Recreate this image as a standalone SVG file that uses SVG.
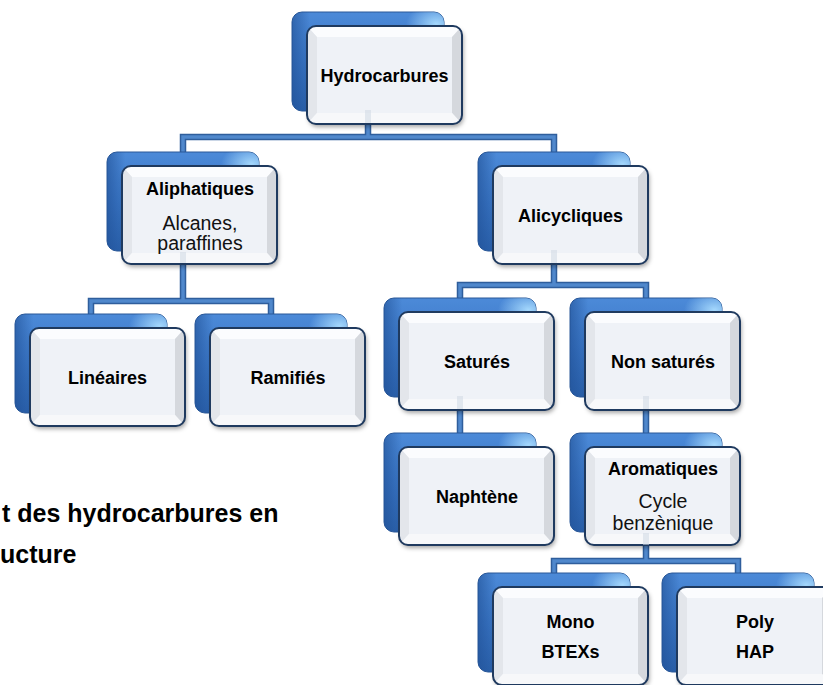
<svg xmlns="http://www.w3.org/2000/svg" xmlns:xlink="http://www.w3.org/1999/xlink" width="823" height="685" viewBox="0 0 823 685">
<style>
  .lbl{font-family:"Liberation Sans",Arial,sans-serif;font-weight:bold;font-size:18px;fill:#000;text-anchor:middle}
  .sub{font-family:"Liberation Sans",Arial,sans-serif;font-size:19.5px;fill:#111;text-anchor:middle}
  .cap{font-family:"Liberation Sans",Arial,sans-serif;font-weight:bold;font-size:25px;fill:#000}
  .c-out{fill:none;stroke:#2f5e9c;stroke-width:6.5}
  .c-in{fill:none;stroke:#5088cc;stroke-width:3.5}
  .band{fill:#cfd8e4;opacity:0.55}
</style>
<defs>
  <linearGradient id="gBack" x1="0" y1="0" x2="0" y2="1">
    <stop offset="0" stop-color="#4c8ad8"/>
    <stop offset="0.5" stop-color="#3a76c6"/>
    <stop offset="1" stop-color="#2b62ad"/>
  </linearGradient>
  <linearGradient id="gBackL" x1="0" y1="0" x2="1" y2="0">
    <stop offset="0" stop-color="#1f4f94" stop-opacity="0.6"/>
    <stop offset="0.12" stop-color="#1f4f94" stop-opacity="0"/>
  </linearGradient>
  <radialGradient id="gGlow" cx="0.95" cy="0.12" r="0.2">
    <stop offset="0" stop-color="#a9dcff" stop-opacity="0.95"/>
    <stop offset="1" stop-color="#a9dcff" stop-opacity="0"/>
  </radialGradient>
  <filter id="shadow" x="-10%" y="-10%" width="125%" height="130%">
    <feDropShadow dx="1.5" dy="3" stdDeviation="2" flood-color="#000" flood-opacity="0.35"/>
  </filter>
  <clipPath id="frontClip">
    <rect x="15" y="14" width="155" height="98" rx="9"/>
  </clipPath>
  <g id="card">
    <rect x="0" y="0" width="152" height="99" rx="10" fill="url(#gBack)" stroke="#2a5898" stroke-width="1"/>
    <rect x="0" y="0" width="152" height="99" rx="10" fill="url(#gBackL)"/>
    <rect x="0" y="0" width="152" height="99" rx="10" fill="url(#gGlow)"/>
    <rect x="15" y="14" width="155" height="98" rx="9" fill="#eef1f6" filter="url(#shadow)"/>
    <g clip-path="url(#frontClip)">
      <polygon points="15,14 170,14 160,25 25,25" fill="#fbfcfe"/>
      <polygon points="15,14 25,25 25,101 15,112" fill="#e3e6eb"/>
      <polygon points="170,14 170,112 160,101 160,25" fill="#d5d8dd"/>
      <polygon points="15,112 25,101 160,101 170,112" fill="#f7f8fa"/>
      <rect x="25" y="25" width="135" height="76" fill="#eff2f7"/>
    </g>
    <rect x="15" y="14" width="155" height="98" rx="9" fill="none" stroke="#1f3a5f" stroke-width="2"/>
  </g>
</defs>

<rect width="823" height="685" fill="#fff"/>

<g id="connectors">
  <path class="c-out" d="M368 110 V137 H183 V156 M368 110 V137 H554 V156 M183 250 V301 H91 V318 M183 250 V301 H271 V318 M554 250 V285 H460 V302 M554 250 V285 H646 V302 M460 396 V437 M646 396 V437 M646 531 V561 H554 V577 M646 531 V561 H738 V577"/>
  <path class="c-in" d="M368 110 V137 H183 V156 M368 110 V137 H554 V156 M183 250 V301 H91 V318 M183 250 V301 H271 V318 M554 250 V285 H460 V302 M554 250 V285 H646 V302 M460 396 V437 M646 396 V437 M646 531 V561 H554 V577 M646 531 V561 H738 V577"/>
</g>

<g id="n-hydrocarbures">
  <use xlink:href="#card" href="#card" x="292" y="12"/>
  <rect class="band" x="365" y="110" width="6" height="13"/>
  <text class="lbl" x="384.5" y="82">Hydrocarbures</text>
</g>
<g id="n-aliphatiques">
  <use xlink:href="#card" href="#card" x="107" y="152"/>
  <rect class="band" x="180" y="252" width="6" height="11"/>
  <text class="lbl" x="200" y="195">Aliphatiques</text>
  <text class="sub" x="200" y="230">Alcanes,</text>
  <text class="sub" x="200" y="250">paraffines</text>
</g>
<g id="n-alicycliques">
  <use xlink:href="#card" href="#card" x="478" y="152"/>
  <rect class="band" x="551" y="250" width="6" height="13"/>
  <text class="lbl" x="570.5" y="222">Alicycliques</text>
</g>
<g id="n-lineaires">
  <use xlink:href="#card" href="#card" x="15" y="314"/>
  <text class="lbl" x="107.5" y="384">Linéaires</text>
</g>
<g id="n-ramifies">
  <use xlink:href="#card" href="#card" x="195" y="314"/>
  <text class="lbl" x="288" y="384">Ramifiés</text>
</g>
<g id="n-satures">
  <use xlink:href="#card" href="#card" x="384" y="298"/>
  <rect class="band" x="457" y="396" width="6" height="13"/>
  <text class="lbl" x="477" y="368">Saturés</text>
</g>
<g id="n-nonsatures">
  <use xlink:href="#card" href="#card" x="570" y="298"/>
  <rect class="band" x="643" y="396" width="6" height="13"/>
  <text class="lbl" x="663" y="368">Non saturés</text>
</g>
<g id="n-naphtene">
  <use xlink:href="#card" href="#card" x="384" y="433"/>
  <text class="lbl" x="477" y="503">Naphtène</text>
</g>
<g id="n-aromatiques">
  <use xlink:href="#card" href="#card" x="570" y="433"/>
  <rect class="band" x="643" y="533" width="6" height="12"/>
  <text class="lbl" x="663" y="475">Aromatiques</text>
  <text class="sub" x="663" y="508">Cycle</text>
  <text class="sub" x="663" y="530">benzènique</text>
</g>
<g id="n-mono">
  <use xlink:href="#card" href="#card" x="478" y="573"/>
  <text class="lbl" x="570.5" y="628">Mono</text>
  <text class="lbl" x="570.5" y="658">BTEXs</text>
</g>
<g id="n-poly">
  <use xlink:href="#card" href="#card" x="662" y="573"/>
  <text class="lbl" x="755" y="628">Poly</text>
  <text class="lbl" x="755" y="658">HAP</text>
</g>

<g id="caption">
  <text class="cap" x="2" y="522">t des hydrocarbures en</text>
  <text class="cap" x="0" y="563">ucture</text>
</g>
</svg>
